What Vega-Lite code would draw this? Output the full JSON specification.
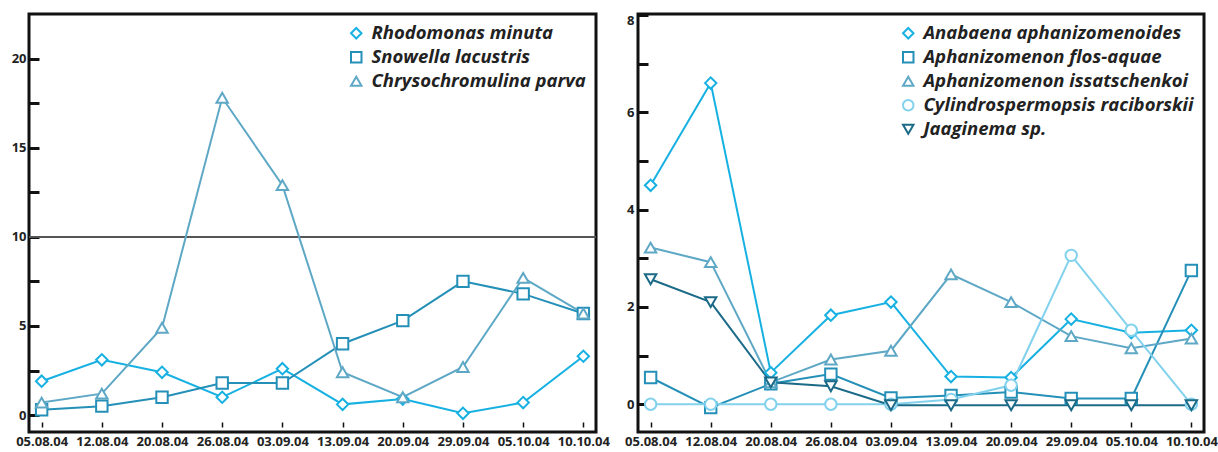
{
  "$schema": "https://vega.github.io/schema/vega-lite/v6.json",
  "background": "white",
  "padding": {"left": 9, "top": 12, "right": 0, "bottom": 0},
  "spacing": 42,
  "bounds": "flush",
  "config": {
    "view": {"stroke": "#111", "strokeWidth": 3},
    "axis": {"domain": false, "grid": false, "title": null, "labelFont": "Open Sans", "labelFontWeight": "bold", "labelFontSize": 13, "labelColor": "#222", "tickColor": "#111"},
    "legend": {"orient": "top-right", "offset": 10, "padding": 0, "title": null, "labelFont": "Open Sans", "labelFontStyle": "italic", "labelFontWeight": "bold", "labelFontSize": 18.5, "labelColor": "#222", "labelLimit": 400, "symbolStrokeWidth": 2, "symbolFillColor": "white", "symbolSize": 110, "rowPadding": 5, "labelOffset": 6}
  },
  "datasets": {
    "left": [
      {"date": "05.08.04", "series": "Rhodomonas minuta", "value": 1.9},
      {"date": "12.08.04", "series": "Rhodomonas minuta", "value": 3.1},
      {"date": "20.08.04", "series": "Rhodomonas minuta", "value": 2.4},
      {"date": "26.08.04", "series": "Rhodomonas minuta", "value": 1.0},
      {"date": "03.09.04", "series": "Rhodomonas minuta", "value": 2.6},
      {"date": "13.09.04", "series": "Rhodomonas minuta", "value": 0.6},
      {"date": "20.09.04", "series": "Rhodomonas minuta", "value": 0.9},
      {"date": "29.09.04", "series": "Rhodomonas minuta", "value": 0.1},
      {"date": "05.10.04", "series": "Rhodomonas minuta", "value": 0.7},
      {"date": "10.10.04", "series": "Rhodomonas minuta", "value": 3.3},
      {"date": "05.08.04", "series": "Snowella lacustris", "value": 0.3},
      {"date": "12.08.04", "series": "Snowella lacustris", "value": 0.5},
      {"date": "20.08.04", "series": "Snowella lacustris", "value": 1.0},
      {"date": "26.08.04", "series": "Snowella lacustris", "value": 1.8},
      {"date": "03.09.04", "series": "Snowella lacustris", "value": 1.8},
      {"date": "13.09.04", "series": "Snowella lacustris", "value": 4.0},
      {"date": "20.09.04", "series": "Snowella lacustris", "value": 5.3},
      {"date": "29.09.04", "series": "Snowella lacustris", "value": 7.5},
      {"date": "05.10.04", "series": "Snowella lacustris", "value": 6.8},
      {"date": "10.10.04", "series": "Snowella lacustris", "value": 5.7},
      {"date": "05.08.04", "series": "Chrysochromulina parva", "value": 0.7},
      {"date": "12.08.04", "series": "Chrysochromulina parva", "value": 1.2},
      {"date": "20.08.04", "series": "Chrysochromulina parva", "value": 4.9},
      {"date": "26.08.04", "series": "Chrysochromulina parva", "value": 17.8},
      {"date": "03.09.04", "series": "Chrysochromulina parva", "value": 12.9},
      {"date": "13.09.04", "series": "Chrysochromulina parva", "value": 2.4},
      {"date": "20.09.04", "series": "Chrysochromulina parva", "value": 1.0},
      {"date": "29.09.04", "series": "Chrysochromulina parva", "value": 2.7},
      {"date": "05.10.04", "series": "Chrysochromulina parva", "value": 7.7},
      {"date": "10.10.04", "series": "Chrysochromulina parva", "value": 5.7}
    ],
    "right": [
      {"date": "05.08.04", "series": "Anabaena aphanizomenoides", "value": 4.5},
      {"date": "12.08.04", "series": "Anabaena aphanizomenoides", "value": 6.6},
      {"date": "20.08.04", "series": "Anabaena aphanizomenoides", "value": 0.65},
      {"date": "26.08.04", "series": "Anabaena aphanizomenoides", "value": 1.83},
      {"date": "03.09.04", "series": "Anabaena aphanizomenoides", "value": 2.1},
      {"date": "13.09.04", "series": "Anabaena aphanizomenoides", "value": 0.57},
      {"date": "20.09.04", "series": "Anabaena aphanizomenoides", "value": 0.55},
      {"date": "29.09.04", "series": "Anabaena aphanizomenoides", "value": 1.75},
      {"date": "05.10.04", "series": "Anabaena aphanizomenoides", "value": 1.47},
      {"date": "10.10.04", "series": "Anabaena aphanizomenoides", "value": 1.52},
      {"date": "05.08.04", "series": "Aphanizomenon flos-aquae", "value": 0.55},
      {"date": "12.08.04", "series": "Aphanizomenon flos-aquae", "value": -0.07},
      {"date": "20.08.04", "series": "Aphanizomenon flos-aquae", "value": 0.42},
      {"date": "26.08.04", "series": "Aphanizomenon flos-aquae", "value": 0.62},
      {"date": "03.09.04", "series": "Aphanizomenon flos-aquae", "value": 0.13},
      {"date": "13.09.04", "series": "Aphanizomenon flos-aquae", "value": 0.18},
      {"date": "20.09.04", "series": "Aphanizomenon flos-aquae", "value": 0.25},
      {"date": "29.09.04", "series": "Aphanizomenon flos-aquae", "value": 0.12},
      {"date": "05.10.04", "series": "Aphanizomenon flos-aquae", "value": 0.12},
      {"date": "10.10.04", "series": "Aphanizomenon flos-aquae", "value": 2.75},
      {"date": "05.08.04", "series": "Aphanizomenon issatschenkoi", "value": 3.22},
      {"date": "12.08.04", "series": "Aphanizomenon issatschenkoi", "value": 2.92},
      {"date": "20.08.04", "series": "Aphanizomenon issatschenkoi", "value": 0.45},
      {"date": "26.08.04", "series": "Aphanizomenon issatschenkoi", "value": 0.92},
      {"date": "03.09.04", "series": "Aphanizomenon issatschenkoi", "value": 1.1},
      {"date": "13.09.04", "series": "Aphanizomenon issatschenkoi", "value": 2.67},
      {"date": "20.09.04", "series": "Aphanizomenon issatschenkoi", "value": 2.1},
      {"date": "29.09.04", "series": "Aphanizomenon issatschenkoi", "value": 1.4},
      {"date": "05.10.04", "series": "Aphanizomenon issatschenkoi", "value": 1.15},
      {"date": "10.10.04", "series": "Aphanizomenon issatschenkoi", "value": 1.35},
      {"date": "05.08.04", "series": "Cylindrospermopsis raciborskii", "value": 0},
      {"date": "12.08.04", "series": "Cylindrospermopsis raciborskii", "value": 0},
      {"date": "20.08.04", "series": "Cylindrospermopsis raciborskii", "value": 0},
      {"date": "26.08.04", "series": "Cylindrospermopsis raciborskii", "value": 0},
      {"date": "03.09.04", "series": "Cylindrospermopsis raciborskii", "value": 0},
      {"date": "13.09.04", "series": "Cylindrospermopsis raciborskii", "value": 0.1},
      {"date": "20.09.04", "series": "Cylindrospermopsis raciborskii", "value": 0.39},
      {"date": "29.09.04", "series": "Cylindrospermopsis raciborskii", "value": 3.06},
      {"date": "05.10.04", "series": "Cylindrospermopsis raciborskii", "value": 1.52},
      {"date": "10.10.04", "series": "Cylindrospermopsis raciborskii", "value": 0},
      {"date": "05.08.04", "series": "Jaaginema sp.", "value": 2.57},
      {"date": "12.08.04", "series": "Jaaginema sp.", "value": 2.1},
      {"date": "20.08.04", "series": "Jaaginema sp.", "value": 0.45},
      {"date": "26.08.04", "series": "Jaaginema sp.", "value": 0.37},
      {"date": "03.09.04", "series": "Jaaginema sp.", "value": -0.02},
      {"date": "13.09.04", "series": "Jaaginema sp.", "value": -0.02},
      {"date": "20.09.04", "series": "Jaaginema sp.", "value": -0.02},
      {"date": "29.09.04", "series": "Jaaginema sp.", "value": -0.02},
      {"date": "05.10.04", "series": "Jaaginema sp.", "value": -0.02},
      {"date": "10.10.04", "series": "Jaaginema sp.", "value": -0.02}
    ]
  },
  "hconcat": [
    {
      "width": 567,
      "height": 418,
      "data": {"name": "left"},
      "encoding": {
        "x": {"field": "date", "type": "ordinal", "sort": ["05.08.04","12.08.04","20.08.04","26.08.04","03.09.04","13.09.04","20.09.04","29.09.04","05.10.04","10.10.04"], "scale": {"type": "point", "padding": 0.21}, "axis": {"labelAngle": 0, "tickSize": -10, "tickDash": [0, 5, 5, 30], "tickWidth": 1.5, "labelPadding": 13}},
        "y": {"field": "value", "type": "quantitative", "scale": {"domain": [-0.95, 22.5], "nice": false, "zero": false}, "axis": {"values": [0, 2.5, 5, 7.5, 10, 12.5, 15, 17.5, 20], "labelExpr": "datum.value % 5 === 0 ? datum.label : ''", "tickSize": -10, "tickWidth": 3, "labelPadding": 13}}
      },
      "layer": [
        {"mark": {"type": "rule", "color": "#555", "strokeWidth": 1.5}, "encoding": {"y": {"datum": 10}, "x": {"value": 0}, "x2": {"value": 567}}},
        {"mark": {"type": "line", "strokeWidth": 2}, "encoding": {"color": {"field": "series", "type": "nominal", "scale": {"domain": ["Rhodomonas minuta", "Snowella lacustris", "Chrysochromulina parva"], "range": ["#16b1e2", "#2490b8", "#5ea8c6"]}, "legend": {"title": null}}}},
        {"mark": {"type": "point", "filled": false, "fill": "white", "strokeWidth": 2, "size": 130, "opacity": 1}, "encoding": {"color": {"field": "series", "type": "nominal", "legend": {"title": null}}, "shape": {"field": "series", "type": "nominal", "scale": {"domain": ["Rhodomonas minuta", "Snowella lacustris", "Chrysochromulina parva"], "range": ["diamond", "square", "triangle-up"]}, "legend": {"title": null}}}}
      ]
    },
    {
      "width": 566,
      "height": 418,
      "data": {"name": "right"},
      "encoding": {
        "x": {"field": "date", "type": "ordinal", "sort": ["05.08.04","12.08.04","20.08.04","26.08.04","03.09.04","13.09.04","20.09.04","29.09.04","05.10.04","10.10.04"], "scale": {"type": "point", "padding": 0.21}, "axis": {"labelAngle": 0, "tickSize": -10, "tickDash": [0, 5, 5, 30], "tickWidth": 1.5, "labelPadding": 13}},
        "y": {"field": "value", "type": "quantitative", "scale": {"domain": [-0.57, 8.02], "nice": false, "zero": false}, "axis": {"values": [0, 1, 2, 3, 4, 5, 6, 7, 8], "labelExpr": "datum.value % 2 === 0 ? datum.label : ''", "tickSize": -10, "tickWidth": 3, "labelPadding": 14, "labelFlush": 3}}
      },
      "layer": [
        {"mark": {"type": "line", "strokeWidth": 2}, "encoding": {"color": {"field": "series", "type": "nominal", "scale": {"domain": ["Anabaena aphanizomenoides", "Aphanizomenon flos-aquae", "Aphanizomenon issatschenkoi", "Cylindrospermopsis raciborskii", "Jaaginema sp."], "range": ["#16b1e2", "#2490b8", "#5ea8c6", "#82d2ee", "#1b6a87"]}, "legend": {"title": null}}}},
        {"mark": {"type": "point", "filled": false, "fill": "white", "strokeWidth": 2, "size": 130, "opacity": 1}, "encoding": {"color": {"field": "series", "type": "nominal", "legend": {"title": null}}, "shape": {"field": "series", "type": "nominal", "scale": {"domain": ["Anabaena aphanizomenoides", "Aphanizomenon flos-aquae", "Aphanizomenon issatschenkoi", "Cylindrospermopsis raciborskii", "Jaaginema sp."], "range": ["diamond", "square", "triangle-up", "circle", "triangle-down"]}, "legend": {"title": null}}}}
      ]
    }
  ],
  "resolve": {"scale": {"color": "independent", "shape": "independent"}, "legend": {"color": "independent", "shape": "independent"}}
}
